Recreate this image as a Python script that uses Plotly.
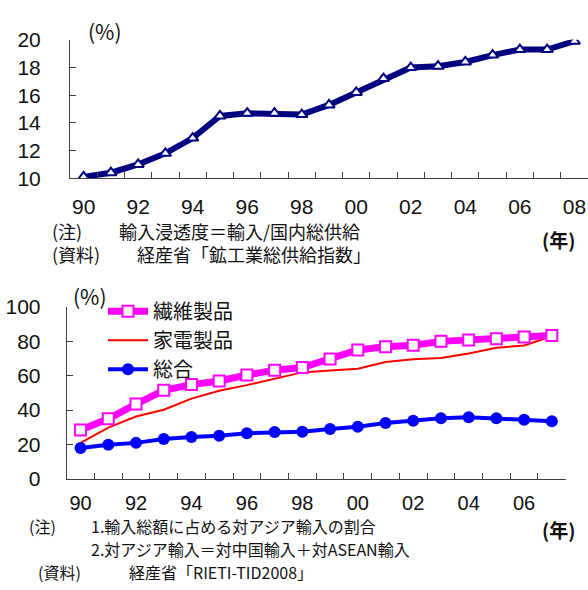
import plotly.graph_objects as go

# --- data ---------------------------------------------------------------
years_top = ["90", "91", "92", "93", "94", "95", "96", "97", "98", "99",
             "00", "01", "02", "03", "04", "05", "06", "07", "08"]
penetration = [10.1, 10.4, 11.0, 11.8, 12.9, 14.5, 14.7, 14.7, 14.6, 15.3,
               16.2, 17.2, 18.0, 18.1, 18.4, 18.9, 19.3, 19.3, 19.9]

years_bottom = ["90", "91", "92", "93", "94", "95", "96", "97", "98", "99",
                "00", "01", "02", "03", "04", "05", "06", "07"]
textile = [28.5, 35.0, 43.5, 51.5, 54.8, 56.9, 60.4, 63.2, 64.7, 69.7,
           74.9, 76.8, 77.7, 79.9, 80.7, 81.4, 82.4, 83.3]
appliance = [21.0, 29.9, 36.3, 40.2, 46.7, 51.3, 54.5, 58.2, 61.9, 63.0,
             64.0, 67.9, 69.5, 70.3, 72.9, 76.2, 77.5, 82.9]
total = [18.0, 19.9, 21.0, 23.2, 24.4, 25.1, 26.6, 27.3, 27.5, 29.0,
         30.3, 32.5, 33.8, 35.3, 35.9, 35.3, 34.4, 33.6]

series_names = ["繊維製品", "家電製品", "総合"]

W, H = 588, 590
NUM_FONT = "Liberation Sans, Arial, sans-serif"
JP_FONT = "Noto Sans CJK JP, sans-serif"
AXIS_COLOR = "#404040"


def px(x):
    return x / W


def py(y):
    return 1 - y / H


def even_labels(cats):
    return [c if i % 2 == 0 else "" for i, c in enumerate(cats)]


fig = go.Figure()

# upper panel: import penetration
fig.add_trace(go.Scatter(
    x=years_top, y=penetration, mode="lines+markers",
    line=dict(color="#000080", width=6),
    marker=dict(symbol="triangle-up", size=10, color="white",
                line=dict(color="#000080", width=2)),
    xaxis="x", yaxis="y", showlegend=False,
))

# lower panel: share of imports from Asia
fig.add_trace(go.Scatter(
    x=years_bottom, y=appliance, mode="lines", name=series_names[1],
    line=dict(color="#FF0000", width=2),
    xaxis="x2", yaxis="y2", legendrank=2,
))
fig.add_trace(go.Scatter(
    x=years_bottom, y=textile, mode="lines+markers", name=series_names[0],
    line=dict(color="#FF00FF", width=7),
    marker=dict(symbol="square", size=11, color="white",
                line=dict(color="#FF00FF", width=2)),
    xaxis="x2", yaxis="y2", legendrank=1,
))
fig.add_trace(go.Scatter(
    x=years_bottom, y=total, mode="lines+markers", name=series_names[2],
    line=dict(color="#0000FF", width=4),
    marker=dict(symbol="circle", size=12, color="#0000FF"),
    xaxis="x2", yaxis="y2", legendrank=3,
))

axis_common = dict(
    showline=True, linecolor=AXIS_COLOR, linewidth=1,
    ticks="inside", tickcolor=AXIS_COLOR, ticklen=6, tickwidth=1,
    showgrid=False, zeroline=False,
    tickfont=dict(family=NUM_FONT, size=21, color="#111"),
)

fig.update_layout(
    width=W, height=H, autosize=False,
    margin=dict(l=0, r=0, t=0, b=0),
    paper_bgcolor="white", plot_bgcolor="white",
    xaxis=dict(axis_common, domain=[px(70), 1.0], anchor="y",
               type="category", tickson="boundaries",
               range=[-0.5, len(years_top) - 0.5],
               tickvals=years_top, ticktext=even_labels(years_top),
               tickangle=0, ticklabelstandoff=10),
    yaxis=dict(axis_common, domain=[py(173), py(29)], anchor="x",
               range=[10, 20], dtick=2, ticklabelstandoff=24),
    xaxis2=dict(axis_common, domain=[px(66.7), px(565.7)], anchor="y2",
                type="category", tickson="boundaries",
                range=[-0.5, len(years_bottom) - 0.5],
                tickvals=years_bottom, ticktext=even_labels(years_bottom),
                tickangle=0, ticklabelstandoff=6,
                tickfont=dict(family=NUM_FONT, size=20, color="#111")),
    yaxis2=dict(axis_common, domain=[py(486), py(306.7)], anchor="x2",
                range=[0, 100], dtick=20, ticklabelstandoff=21),
    legend=dict(x=px(103), y=py(291), xanchor="left", yanchor="top",
                bgcolor="rgba(0,0,0,0)", borderwidth=0,
                font=dict(family=JP_FONT, size=20, color="#111"),
                itemwidth=40, tracegroupgap=4),
    showlegend=True,
)


def note(x, y, text, size=18, font=JP_FONT, align="left"):
    fig.add_annotation(x=px(x), y=py(y), xref="paper", yref="paper",
                       xanchor="left", yanchor="middle", showarrow=False,
                       align=align, text=text,
                       font=dict(family=font, size=size, color="#111"))


# unit labels
note(86, 20, "(%)", size=21)
note(71, 295, "(%)", size=21)
note(540, 237, "<b>(年)</b>", size=19)
note(540, 538, "<b>(年)</b>", size=19)

# upper notes
note(50, 240, "(注)<br>(資料)", size=18)
note(117, 240, "輸入浸透度＝輸入/国内総供給<br>　経産省「鉱工業総供給指数」", size=18)

# lower notes, one line each
note(27, 535, "(注)", size=16)
note(89, 535, "1.輸入総額に占める対アジア輸入の割合", size=16)
note(89, 559, "2.対アジア輸入＝対中国輸入＋対ASEAN輸入", size=16)
note(36, 583, "(資料)", size=16)
note(127, 583, "経産省「RIETI-TID2008」", size=16)

fig.write_html("out.html")
